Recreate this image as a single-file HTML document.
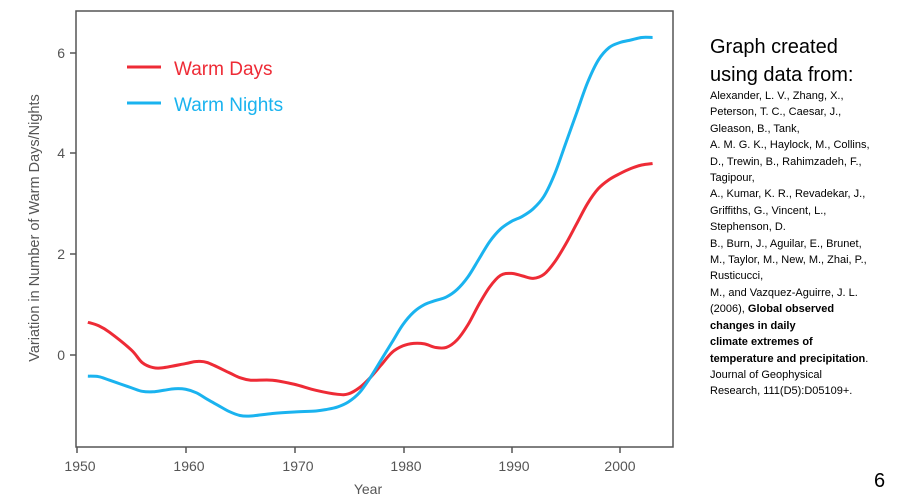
<!DOCTYPE html>
<html><head><meta charset="utf-8"><style>
body{margin:0;width:900px;height:499px;background:#fff;overflow:hidden;position:relative;font-family:"Liberation Sans",sans-serif}
#t{position:absolute;left:710px;top:33px;font-size:20px;line-height:28px;color:#000}
#s{position:absolute;left:710px;top:88px;font-size:11px;line-height:16.4px;color:#000;white-space:nowrap}
#n{position:absolute;left:874px;top:470px;font-size:20px}
</style></head><body>
<svg width="900" height="499" style="position:absolute;left:0;top:0" font-family="Liberation Sans, sans-serif">
<rect x="76" y="11" width="597" height="436" fill="none" stroke="#555" stroke-width="1.5"/>
<g stroke="#555" stroke-width="1.5">
<line x1="76" y1="53" x2="70" y2="53"/><line x1="76" y1="153" x2="70" y2="153"/><line x1="76" y1="254" x2="70" y2="254"/><line x1="76" y1="355" x2="70" y2="355"/>
<line x1="77" y1="447" x2="77" y2="453"/><line x1="186" y1="447" x2="186" y2="453"/><line x1="295" y1="447" x2="295" y2="453"/><line x1="404" y1="447" x2="404" y2="453"/><line x1="512" y1="447" x2="512" y2="453"/><line x1="620" y1="447" x2="620" y2="453"/>
</g>
<g fill="#555" font-size="14" text-anchor="end">
<text x="65" y="58">6</text><text x="65" y="158">4</text><text x="65" y="259">2</text><text x="65" y="360">0</text>
</g>
<g fill="#555" font-size="14" text-anchor="middle">
<text x="80" y="471">1950</text><text x="189" y="471">1960</text><text x="298" y="471">1970</text><text x="406" y="471">1980</text><text x="514" y="471">1990</text><text x="620" y="471">2000</text>
<text x="368" y="494">Year</text>
<text transform="translate(39,228) rotate(-90)" font-size="14.5">Variation in Number of Warm Days/Nights</text>
</g>
<line x1="127" y1="67" x2="161" y2="67" stroke="#ee2b36" stroke-width="3"/>
<line x1="127" y1="103" x2="161" y2="103" stroke="#1ab3ef" stroke-width="3"/>
<text x="174" y="75" font-size="19" fill="#ee2b36">Warm Days</text>
<text x="174" y="111" font-size="19" fill="#1ab3ef">Warm Nights</text>
<path id="pd" fill="none" stroke="#ee2b36" stroke-width="3"/>
<path id="pn" fill="none" stroke="#1ab3ef" stroke-width="3"/>
</svg>
<div id="t">Graph created<br>using data from:</div>
<div id="s">Alexander, L. V., Zhang, X.,<br>Peterson, T. C., Caesar, J.,<br>Gleason, B., Tank,<br>A. M. G. K., Haylock, M., Collins,<br>D., Trewin, B., Rahimzadeh, F.,<br>Tagipour,<br>A., Kumar, K. R., Revadekar, J.,<br>Griffiths, G., Vincent, L.,<br>Stephenson, D.<br>B., Burn, J., Aguilar, E., Brunet,<br>M., Taylor, M., New, M., Zhai, P.,<br>Rusticucci,<br>M., and Vazquez-Aguirre, J. L.<br>(2006), <b>Global observed<br>changes in daily<br>climate extremes of<br>temperature and precipitation</b>.<br>Journal of Geophysical<br>Research, 111(D5):D05109+.</div>
<div id="n">6</div>
<script>
var D=[[1951,.65],[1952,.58],[1953,.45],[1955,.1],[1956,-.15],[1957,-.25],[1958,-.25],[1960,-.17],[1961,-.13],[1962,-.15],[1964,-.35],[1965,-.45],[1966,-.5],[1968,-.5],[1970,-.58],[1972,-.7],[1974,-.78],[1975,-.77],[1976,-.65],[1977,-.45],[1978,-.2],[1979,.05],[1980,.18],[1981,.23],[1982,.22],[1983,.15],[1984,.15],[1985,.3],[1986,.6],[1987,1],[1988,1.35],[1989,1.58],[1990,1.62],[1991,1.57],[1992,1.52],[1993,1.6],[1994,1.85],[1995,2.2],[1996,2.6],[1997,3],[1998,3.3],[1999,3.48],[2000,3.6],[2001,3.7],[2002,3.77],[2003,3.8]];
var N=[[1951,-.42],[1952,-.43],[1953,-.5],[1955,-.65],[1956,-.72],[1957,-.73],[1958,-.7],[1959,-.67],[1960,-.68],[1961,-.75],[1962,-.88],[1963,-1],[1964,-1.12],[1965,-1.2],[1966,-1.21],[1968,-1.16],[1970,-1.13],[1972,-1.11],[1973,-1.08],[1974,-1.03],[1975,-.93],[1976,-.75],[1977,-.45],[1978,-.1],[1979,.25],[1980,.6],[1981,.85],[1982,1],[1983,1.08],[1984,1.15],[1985,1.3],[1986,1.55],[1987,1.9],[1988,2.25],[1989,2.5],[1990,2.65],[1991,2.75],[1992,2.9],[1993,3.15],[1994,3.6],[1995,4.2],[1996,4.8],[1997,5.4],[1998,5.85],[1999,6.1],[2000,6.2],[2001,6.25],[2002,6.3],[2003,6.3]];
function P(a){var p=a.map(function(d){return[77+(d[0]-1950)*10.86,355-d[1]*50.4]});var s="M"+p[0][0]+","+p[0][1];
for(var i=0;i<p.length-1;i++){var p0=p[i-1]||p[i],p1=p[i],p2=p[i+1],p3=p[i+2]||p2;
s+="C"+(p1[0]+(p2[0]-p0[0])/6)+","+(p1[1]+(p2[1]-p0[1])/6)+" "+(p2[0]-(p3[0]-p1[0])/6)+","+(p2[1]-(p3[1]-p1[1])/6)+" "+p2[0]+","+p2[1];}return s;}
document.getElementById("pd").setAttribute("d",P(D));
document.getElementById("pn").setAttribute("d",P(N));
</script>
</body></html>
